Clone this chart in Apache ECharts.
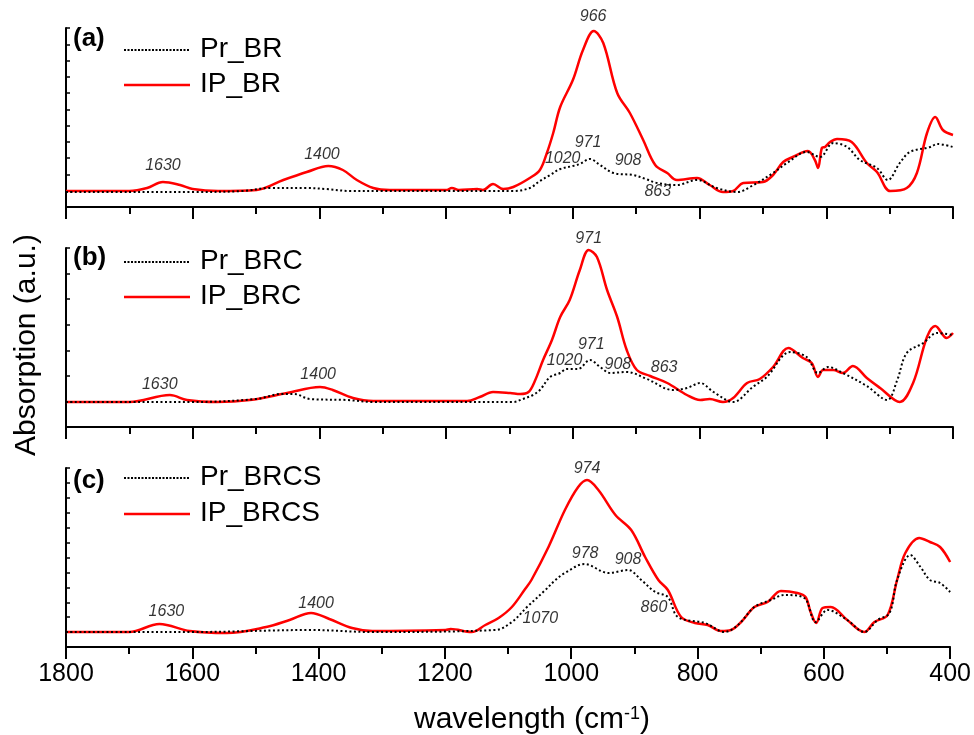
<!DOCTYPE html>
<html><head><meta charset="utf-8">
<script src="https://cdn.jsdelivr.net/npm/echarts@6/dist/echarts.min.js"></script>
<style>html,body{margin:0;padding:0;background:#fff}#c{width:974px;height:735px}</style>
</head><body><div id="c"></div>
<script>
// ---------- DATA ----------
const xMin = 400, xMax = 1800, xStep = 200;
const panelLabels = ['(a)', '(b)', '(c)'];
const prNames = ['Pr_BR', 'Pr_BRC', 'Pr_BRCS'];
const ipNames = ['IP_BR', 'IP_BRC', 'IP_BRCS'];
const yTickCounts = [11, 7, 12];
const yMax = 179;

const prBR = [[1800,15],[1700,15],[1600,15],[1520,16],[1480,19],[1420,19],[1390,18],[1350,16],[1300,16],[1200,16],[1094,16],[1068,19],[1052,26],[1036,32],[1020,38],[1000,41],[989,43],[973,48],[957,42],[936,34],[905,32],[885,28],[867,24],[836,22],[804,27],[773,19],[741,15],[715,22],[684,34],[662,44],[631,55],[610,50],[589,64],[567,60],[547,47],[520,39],[503,27],[484,44],[468,55],[436,60],[425,63],[400,60]];
const ipBR = [[1800,16],[1700,16],[1672,19],[1647,25],[1620,22],[1600,18],[1560,16],[1499,17],[1457,27],[1420,35],[1386,41],[1363,37],[1341,27],[1315,19],[1289,17],[1200,17],[1191,19],[1180,17],[1151,18],[1142,17],[1126,23],[1110,18],[1094,20],[1068,29],[1052,37],[1041,54],[1031,74],[1020,100],[1000,127],[984,157],[967,176],[952,164],[930,114],[910,94],[889,67],[870,42],[851,34],[836,27],[804,29],[784,22],[763,15],[747,16],[731,24],[700,25],[684,32],[668,45],[653,50],[629,56],[618,47],[613,39],[607,59],[602,60],[594,65],[583,68],[560,65],[536,44],[520,35],[499,16],[473,19],[457,34],[441,74],[428,90],[416,77],[400,72]];

const prBRC = [[1800,25],[1700,25],[1600,25],[1500,28],[1460,33],[1440,33],[1415,28],[1357,27],[1315,25],[1200,25],[1094,25],[1079,28],[1063,32],[1052,37],[1036,50],[1020,54],[1010,58],[992,58],[973,67],[957,60],[941,54],[915,55],[883,48],[842,37],[820,39],[799,44],[778,35],[747,25],[716,40],[694,50],[657,75],[631,70],[613,54],[597,60],[574,54],[536,41],[504,27],[488,47],[473,74],[447,84],[425,94],[400,92]];
const ipBRC = [[1800,25],[1700,25],[1636,32],[1609,27],[1562,25],[1510,27],[1451,34],[1399,40],[1379,37],[1347,29],[1315,26],[1167,26],[1147,30],[1126,35],[1099,34],[1083,33],[1070,35],[1060,46],[1047,67],[1033,87],[1020,110],[1005,127],[989,157],[975,177],[962,170],[946,137],[930,110],[915,77],[899,57],[878,51],[851,44],[820,32],[799,27],[784,28],[763,25],[747,29],[725,44],[705,48],[684,60],[660,79],[637,69],[623,64],[613,50],[605,57],[589,57],[574,54],[558,61],[536,49],[515,39],[484,25],[463,44],[441,90],[428,101],[410,89],[400,94]];

const prBRCS = [[1800,15],[1700,15],[1600,15],[1412,17],[1315,15],[1120,17],[1094,25],[1070,40],[1041,57],[1025,67],[1010,74],[979,83],[941,74],[910,77],[889,67],[867,55],[847,50],[831,30],[788,24],[757,15],[736,22],[710,40],[684,47],[662,52],[631,49],[613,25],[594,37],[563,27],[536,15],[515,27],[496,34],[484,67],[463,92],[447,80],[432,67],[416,64],[400,55]];
const ipBRCS = [[1800,15],[1700,15],[1652,23],[1604,16],[1546,14],[1483,20],[1446,27],[1412,34],[1383,28],[1347,19],[1315,16],[1199,17],[1191,18],[1158,15],[1136,22],[1115,29],[1094,40],[1073,58],[1063,67],[1036,100],[1010,137],[989,160],[975,167],[957,157],[930,132],[905,117],[883,90],[862,67],[847,57],[826,30],[804,24],[784,22],[763,16],[747,17],[731,25],[710,40],[689,45],[668,56],[642,54],[629,50],[621,35],[612,24],[602,39],[589,40],[563,27],[536,15],[520,25],[499,32],[484,67],[471,94],[449,109],[432,105],[416,100],[400,85]];

const annA = [[1647,41,'1630'],[1396,52,'1400'],[968,190,'966'],[976,64,'971'],[1016,48,'1020'],[913,46,'908'],[866,15,'863']];
const annB = [[1652,42,'1630'],[1402,52,'1400'],[975,188,'971'],[971,82,'971'],[1013,66,'1020'],[929,62,'908'],[856,59,'863']];
const annC = [[1641,35,'1630'],[1404,43,'1400'],[975,178,'974'],[978,93,'978'],[910,87,'908'],[869,39,'860'],[1049,28,'1070']];

// ---------- LAYOUT ----------
const prData = [prBR, prBRC, prBRCS];
const ipData = [ipBR, ipBRC, ipBRCS];
const annData = [annA, annB, annC];
const gridTops = [28, 248, 468];
const gridH = 179;
const labelY = [40, 259, 482];
const legY = [[50, 85], [262, 297], [478, 514]];
const FONT = '"Liberation Sans", Arial, sans-serif';

const grids = [], xAxes = [], yAxes = [], series = [], graphics = [];
for (let i = 0; i < 3; i++) {
  grids.push({ left: 66, width: 887, top: gridTops[i], height: gridH });
  xAxes.push({
    gridIndex: i, type: 'value', min: xMin, max: xMax, interval: xStep, inverse: true,
    axisLine: { show: true, onZero: false, lineStyle: { color: '#000', width: 2 } },
    axisTick: { show: true, inside: false, length: 12, lineStyle: { color: '#000', width: 2 } },
    minorTick: { show: true, splitNumber: 2, length: 7, lineStyle: { color: '#000', width: 2 } },
    splitLine: { show: false },
    axisLabel: { show: i === 2, margin: 15, color: '#000', fontSize: 25, fontFamily: FONT,
      formatter: v => String(v) }
  });
  yAxes.push({
    gridIndex: i, type: 'value', min: 0, max: yMax, interval: yMax / yTickCounts[i],
    axisLine: { show: true, lineStyle: { color: '#000', width: 2 } },
    axisTick: { show: true, inside: true, length: 4, lineStyle: { color: '#000', width: 1.5 } },
    axisLabel: { show: false }, splitLine: { show: false }
  });
  series.push({
    name: prNames[i], type: 'line', xAxisIndex: i, yAxisIndex: i, data: prData[i],
    symbol: 'none', smooth: 0.35, silent: true, z: 3,
    lineStyle: { color: '#000', width: 2, type: [2, 2.5] }
  });
  series.push({
    name: ipNames[i], type: 'line', xAxisIndex: i, yAxisIndex: i, data: ipData[i],
    symbol: 'none', smooth: 0.35, silent: true, z: 2,
    lineStyle: { color: '#ff0000', width: 2.5 }
  });
  series.push({
    type: 'scatter', xAxisIndex: i, yAxisIndex: i, data: annData[i], symbolSize: 0,
    clip: false, silent: true, z: 5,
    label: { show: true, position: 'inside', formatter: p => p.data[2],
      color: '#000', fontSize: 16, fontStyle: 'italic', fontFamily: FONT }
  });
  graphics.push({ type: 'text', left: 73, top: labelY[i] - 14,
    style: { text: panelLabels[i], fontSize: 26, fontWeight: 'bold', fill: '#000', fontFamily: FONT } });
  graphics.push({ type: 'line', shape: { x1: 124, y1: legY[i][0], x2: 190, y2: legY[i][0] },
    style: { stroke: '#000', lineWidth: 2, lineDash: [2, 1.5] } });
  graphics.push({ type: 'line', shape: { x1: 124, y1: legY[i][1], x2: 190, y2: legY[i][1] },
    style: { stroke: '#ff0000', lineWidth: 2.5 } });
  graphics.push({ type: 'text', left: 200, top: legY[i][0] - 15,
    style: { text: prNames[i], fontSize: 28, fill: '#000', fontFamily: FONT } });
  graphics.push({ type: 'text', left: 200, top: legY[i][1] - 15,
    style: { text: ipNames[i], fontSize: 28, fill: '#000', fontFamily: FONT } });
}
graphics.push({ type: 'text', x: 27, y: 345, rotation: Math.PI / 2,
  style: { text: 'Absorption (a.u.)', fontSize: 30, fill: '#000', fontFamily: FONT,
    align: 'center', verticalAlign: 'middle' } });
graphics.push({ type: 'text', left: 414, top: 705,
  style: { text: 'wavelength (cm{sup|-1})', fontSize: 30, fill: '#000', fontFamily: FONT,
    rich: { sup: { fontSize: 18, verticalAlign: 'top', fontFamily: FONT, fill: '#000' } } } });

const chart = echarts.init(document.getElementById('c'), null, { renderer: 'canvas' });
chart.setOption({
  animation: false, backgroundColor: '#fff',
  grid: grids, xAxis: xAxes, yAxis: yAxes, series: series, graphic: graphics
});
</script></body></html>
